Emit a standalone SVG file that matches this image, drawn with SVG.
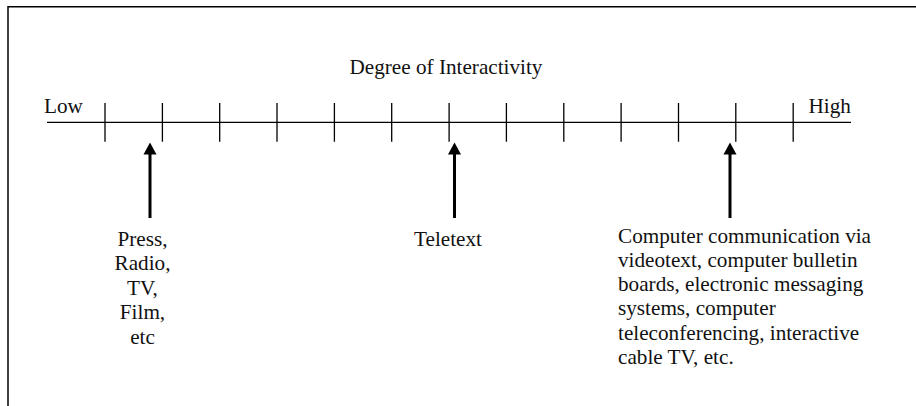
<svg xmlns="http://www.w3.org/2000/svg" width="916" height="406" viewBox="0 0 916 406">
  <defs>
    <style>
      .frame { fill: none; stroke: #000; stroke-width: 1.5; }
      .axis { stroke: #000; stroke-width: 1.3; fill: none; }
      .tick { stroke: #000; stroke-width: 1.3; }
      .shaft { stroke: #000; stroke-width: 3; fill: none; }
      .head { fill: #000; }
      text { font-family: "Liberation Serif", "Times New Roman", serif; font-size: 21.2px; fill: #111; }
      .mid { text-anchor: middle; }
    </style>
  </defs>
  <rect width="916" height="406" fill="#fff"/>
  <!-- open frame: left and top edges -->
  <path class="frame" d="M8,406 V6.7 H916"/>

  <!-- scale -->
  <g id="scale">
    <text id="title" x="446" y="74" class="mid">Degree of Interactivity</text>
    <text id="low" x="44" y="112.5">Low</text>
    <text id="high" x="808.5" y="112.5">High</text>
    <line class="axis" x1="47" y1="122.3" x2="851" y2="122.3"/>
    <g class="tick">
      <line x1="105" y1="103" x2="105" y2="141.7"/>
      <line x1="162.4" y1="103" x2="162.4" y2="141.7"/>
      <line x1="219.7" y1="103" x2="219.7" y2="141.7"/>
      <line x1="277" y1="103" x2="277" y2="141.7"/>
      <line x1="334.4" y1="103" x2="334.4" y2="141.7"/>
      <line x1="391.7" y1="103" x2="391.7" y2="141.7"/>
      <line x1="449.1" y1="103" x2="449.1" y2="141.7"/>
      <line x1="506.4" y1="103" x2="506.4" y2="141.7"/>
      <line x1="563.8" y1="103" x2="563.8" y2="141.7"/>
      <line x1="621.1" y1="103" x2="621.1" y2="141.7"/>
      <line x1="678.5" y1="103" x2="678.5" y2="141.7"/>
      <line x1="735.8" y1="103" x2="735.8" y2="141.7"/>
      <line x1="793.2" y1="103" x2="793.2" y2="141.7"/>
    </g>
  </g>

  <!-- pointers from each label up to the scale -->
  <g id="connectors">
    <line class="shaft" x1="150" y1="153" x2="150" y2="218"/>
    <polygon class="head" points="150,142.5 156.5,154.5 143.5,154.5"/>
    <line class="shaft" x1="454.5" y1="153" x2="454.5" y2="218"/>
    <polygon class="head" points="454.5,142.5 461,154.5 448,154.5"/>
    <line class="shaft" x1="730" y1="153" x2="730" y2="218"/>
    <polygon class="head" points="730,142.5 736.5,154.5 723.5,154.5"/>
  </g>

  <g id="mass-media">
    <text class="mid" x="142.5" y="245.5">Press,</text>
    <text class="mid" x="142.5" y="270">Radio,</text>
    <text class="mid" x="142.5" y="294.5">TV,</text>
    <text class="mid" x="142.5" y="319">Film,</text>
    <text class="mid" x="142.5" y="343.5">etc</text>
  </g>

  <g id="teletext">
    <text class="mid" x="448" y="245.5">Teletext</text>
  </g>

  <g id="computer-media">
    <text x="618" y="242.5">Computer communication via</text>
    <text x="618" y="266.8">videotext, computer bulletin</text>
    <text x="618" y="291.1">boards, electronic messaging</text>
    <text x="618" y="315.4">systems, computer</text>
    <text x="618" y="339.7">teleconferencing, interactive</text>
    <text x="618" y="364">cable TV, etc.</text>
  </g>
</svg>
